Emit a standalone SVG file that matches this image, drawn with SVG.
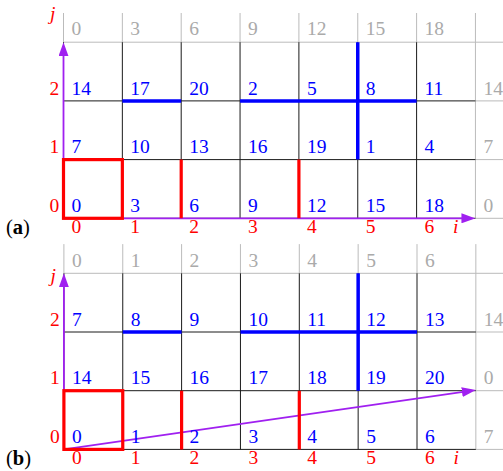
<svg xmlns="http://www.w3.org/2000/svg" width="503" height="471" viewBox="0 0 503 471" font-family="'Liberation Serif', 'Times New Roman', serif" font-size="19.5">
<style>
text{font-family:'Liberation Serif','Times New Roman',serif;font-size:19.5px}
.b{fill:#0000ff}
.r{fill:#ff0000}
.g{fill:#aaaaaa}
.it{font-style:italic}
.lbl{font-size:20.5px}
.gl{stroke:#bbbbbb;stroke-width:1;fill:none}
.kl{stroke:#1a1a1a;stroke-width:1;fill:none}
.thr{stroke:#ff0000;stroke-width:3.2;fill:none}
.thb{stroke:#0000ff;stroke-width:3.5;fill:none}
.ax{stroke:#a020f0;stroke-width:1.8;fill:none}
</style>
<defs>
<marker id="ah" markerWidth="14" markerHeight="10" refX="10" refY="5" orient="auto" markerUnits="userSpaceOnUse">
<path d="M0,0 L14,5 L0,10 z" fill="#a020f0"/>
</marker>
<g id="grid">
<path class="gl" d="M63.5,13V42.2M122.35,13V42.2M181.2,13V42.2M240.05,13V42.2M298.9,13V42.2M357.75,13V42.2M416.6,13V42.2M475.45,13V218.3M63.5,42.2H503M475.45,100.9H503M475.45,159.6H503M475.45,218.3H503"/>
<path class="kl" d="M122.35,42.2V218.3M181.2,42.2V218.3M240.05,42.2V218.3M298.9,42.2V218.3M357.75,42.2V218.3M416.6,42.2V218.3M63.5,100.9H475.45M63.5,159.6H475.45M63.5,218.3H475.45M63.5,42.2V218.3"/>
</g>
</defs>

<g id="panel-a">
<use href="#grid"/>
<g id="a-highlights">
<path class="thb" d="M122.35,100.9H181.2M240.05,100.9H416.6M357.75,42.2V159.6"/>
</g>
<g id="a-connectors">
<line class="ax" x1="63.5" y1="218.3" x2="63.5" y2="46.2" marker-end="url(#ah)"/>
<line class="ax" x1="63.5" y1="218.3" x2="471.45" y2="218.3" marker-end="url(#ah)"/>
</g>
<g id="a-red">
<rect class="thr" x="63.5" y="159.6" width="58.85" height="58.7"/>
<path class="thr" d="M181.2,159.6V218.3M298.9,159.6V218.3"/>
</g>
<g id="a-top">
<text class="g" x="71.5" y="35">0</text><text class="g" x="130.35" y="35">3</text><text class="g" x="189.2" y="35">6</text><text class="g" x="248.05" y="35">9</text><text class="g" x="306.9" y="35">12</text><text class="g" x="365.75" y="35">15</text><text class="g" x="424.6" y="35">18</text>
</g>
<g id="a-row2">
<text class="b" x="71.5" y="94.6">14</text><text class="b" x="130.35" y="94.6">17</text><text class="b" x="189.2" y="94.6">20</text><text class="b" x="248.05" y="94.6">2</text><text class="b" x="306.9" y="94.6">5</text><text class="b" x="365.75" y="94.6">8</text><text class="b" x="424.6" y="94.6">11</text><text class="g" x="483.45" y="94.6">14</text>
</g>
<g id="a-row1">
<text class="b" x="71.5" y="153.3">7</text><text class="b" x="130.35" y="153.3">10</text><text class="b" x="189.2" y="153.3">13</text><text class="b" x="248.05" y="153.3">16</text><text class="b" x="306.9" y="153.3">19</text><text class="b" x="365.75" y="153.3">1</text><text class="b" x="424.6" y="153.3">4</text><text class="g" x="483.45" y="153.3">7</text>
</g>
<g id="a-row0">
<text class="b" x="71.5" y="212">0</text><text class="b" x="130.35" y="212">3</text><text class="b" x="189.2" y="212">6</text><text class="b" x="248.05" y="212">9</text><text class="b" x="306.9" y="212">12</text><text class="b" x="365.75" y="212">15</text><text class="b" x="424.6" y="212">18</text><text class="g" x="483.45" y="212">0</text>
</g>
<g id="a-axis-labels">
<text class="r" x="49.5" y="94.6">2</text><text class="r" x="49.5" y="153.3">1</text><text class="r" x="49.5" y="212">0</text>
<text class="r" x="71.5" y="233">0</text><text class="r" x="130.35" y="233">1</text><text class="r" x="189.2" y="233">2</text><text class="r" x="248.05" y="233">3</text><text class="r" x="306.9" y="233">4</text><text class="r" x="365.75" y="233">5</text><text class="r" x="424.6" y="233">6</text>
<text class="r it" x="453" y="233">i</text>
<text class="r it" x="50" y="20">j</text>
</g>
<text id="label-a" class="lbl" x="6" y="234">(<tspan font-weight="bold">a</tspan>)</text>
</g>

<g id="panel-b">
<use href="#grid" transform="translate(0.4,231.1)"/>
<g transform="translate(0.4,231.1)">
<g id="b-highlights">
<path class="thb" d="M122.35,100.9H181.2M240.05,100.9H416.6M357.75,42.2V159.6"/>
</g>
<g id="b-connectors">
<line class="ax" x1="63.5" y1="218.3" x2="63.5" y2="46.2" marker-end="url(#ah)"/>
<line class="ax" x1="63.5" y1="218.3" x2="471.49" y2="159.56" marker-end="url(#ah)"/>
</g>
<g id="b-red">
<rect class="thr" x="63.5" y="159.6" width="58.85" height="58.7"/>
<path class="thr" d="M181.2,159.6V218.3M298.9,159.6V218.3"/>
</g>
<g id="b-top">
<text class="g" x="71.5" y="35.5">0</text><text class="g" x="130.35" y="35.5">1</text><text class="g" x="189.2" y="35.5">2</text><text class="g" x="248.05" y="35.5">3</text><text class="g" x="306.9" y="35.5">4</text><text class="g" x="365.75" y="35.5">5</text><text class="g" x="424.6" y="35.5">6</text>
</g>
<g id="b-row2">
<text class="b" x="71.5" y="94.6">7</text><text class="b" x="130.35" y="94.6">8</text><text class="b" x="189.2" y="94.6">9</text><text class="b" x="248.05" y="94.6">10</text><text class="b" x="306.9" y="94.6">11</text><text class="b" x="365.75" y="94.6">12</text><text class="b" x="424.6" y="94.6">13</text><text class="g" x="483.45" y="94.6">14</text>
</g>
<g id="b-row1">
<text class="b" x="71.5" y="153.3">14</text><text class="b" x="130.35" y="153.3">15</text><text class="b" x="189.2" y="153.3">16</text><text class="b" x="248.05" y="153.3">17</text><text class="b" x="306.9" y="153.3">18</text><text class="b" x="365.75" y="153.3">19</text><text class="b" x="424.6" y="153.3">20</text><text class="g" x="483.45" y="153.3">0</text>
</g>
<g id="b-row0">
<text class="b" x="71.5" y="212">0</text><text class="b" x="130.35" y="212">1</text><text class="b" x="189.2" y="212">2</text><text class="b" x="248.05" y="212">3</text><text class="b" x="306.9" y="212">4</text><text class="b" x="365.75" y="212">5</text><text class="b" x="424.6" y="212">6</text><text class="g" x="483.45" y="212">7</text>
</g>
<g id="b-axis-labels">
<text class="r" x="49.5" y="94.6">2</text><text class="r" x="49.5" y="153.3">1</text><text class="r" x="49.5" y="212">0</text>
<text class="r" x="71.5" y="233">0</text><text class="r" x="130.35" y="233">1</text><text class="r" x="189.2" y="233">2</text><text class="r" x="248.05" y="233">3</text><text class="r" x="306.9" y="233">4</text><text class="r" x="365.75" y="233">5</text><text class="r" x="424.6" y="233">6</text>
<text class="r it" x="453" y="233">i</text>
<text class="r it" x="50" y="51">j</text>
</g>
</g>
<text id="label-b" class="lbl" x="6" y="465">(<tspan font-weight="bold">b</tspan>)</text>
</g>
</svg>
